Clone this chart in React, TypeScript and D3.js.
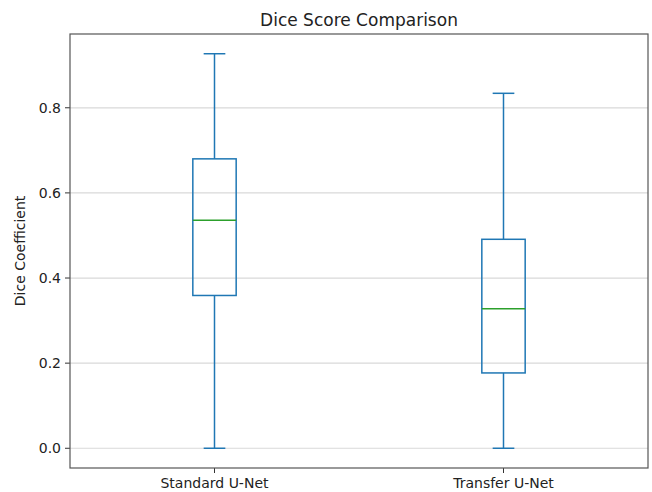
import React from "react";
import * as d3 from "d3";

const categories = ["Standard U-Net", "Transfer U-Net"];
const whiskerLow = [0.0, 0.0];
const q1 = [0.359, 0.177];
const median = [0.536, 0.328];
const q3 = [0.68, 0.491];
const whiskerHigh = [0.927, 0.834];
const yTicks = [0.0, 0.2, 0.4, 0.6, 0.8];

const W = 652, H = 492;
const M = { left: 70, right: 4, top: 34, bottom: 24 };
const FONT = "DejaVu Sans, sans-serif";

export default function App() {
  const x = d3.scaleLinear().domain([0.5, 2.5]).range([M.left, W - M.right]);
  const span = 0.927;
  const y = d3.scaleLinear().domain([-0.05 * span, span * 1.05]).range([H - M.bottom, M.top]);
  const pxPerUnit = x(1) - x(0);
  const boxW = 0.15 * pxPerUnit;
  const capW = boxW / 2;
  const C0 = "#1f77b4";
  return (
    <svg width={W} height={H} style={{ position: "absolute", left: 0, top: 0, background: "#fff" }} fontFamily={FONT}>
      <rect x={0} y={0} width={W} height={H} fill="#fff" />
      {yTicks.map((t) => (
        <g key={t}>
          <line x1={M.left} x2={W - M.right} y1={y(t)} y2={y(t)} stroke="#d9d9d9" strokeWidth={1.2} />
          <line x1={M.left - 5} x2={M.left} y1={y(t)} y2={y(t)} stroke="#333" strokeWidth={1} />
          <text x={M.left - 9} y={y(t)} dy="0.35em" textAnchor="end" fontSize={14} fill="#222">{d3.format(".1f")(t)}</text>
        </g>
      ))}
      {categories.map((c, i) => {
        const cx = x(i + 1);
        return (
          <g key={c}>
            <line x1={cx} x2={cx} y1={y(q3[i])} y2={y(whiskerHigh[i])} stroke={C0} strokeWidth={1.5} />
            <line x1={cx} x2={cx} y1={y(q1[i])} y2={y(whiskerLow[i])} stroke={C0} strokeWidth={1.5} />
            <line x1={cx - capW / 2} x2={cx + capW / 2} y1={y(whiskerHigh[i])} y2={y(whiskerHigh[i])} stroke={C0} strokeWidth={1.5} />
            <line x1={cx - capW / 2} x2={cx + capW / 2} y1={y(whiskerLow[i])} y2={y(whiskerLow[i])} stroke={C0} strokeWidth={1.5} />
            <rect x={cx - boxW / 2} y={y(q3[i])} width={boxW} height={y(q1[i]) - y(q3[i])} fill="none" stroke={C0} strokeWidth={1.5} />
            <line x1={cx - boxW / 2} x2={cx + boxW / 2} y1={y(median[i])} y2={y(median[i])} stroke="#2ca02c" strokeWidth={1.5} />
            <line x1={cx} x2={cx} y1={H - M.bottom} y2={H - M.bottom + 5} stroke="#333" strokeWidth={1} />
            <text x={cx} y={H - M.bottom + 15} dy="0.35em" textAnchor="middle" fontSize={14} fill="#222">{c}</text>
          </g>
        );
      })}
      <rect x={M.left} y={M.top} width={W - M.left - M.right} height={H - M.top - M.bottom} fill="none" stroke="#555" strokeWidth={1.2} />
      <text x={(M.left + W - M.right) / 2} y={20} dy="0.35em" textAnchor="middle" fontSize={17} fill="#222">Dice Score Comparison</text>
      <text transform={`translate(20,${(M.top + H - M.bottom) / 2}) rotate(-90)`} dy="0.35em" textAnchor="middle" fontSize={14} fill="#222">Dice Coefficient</text>
    </svg>
  );
}
